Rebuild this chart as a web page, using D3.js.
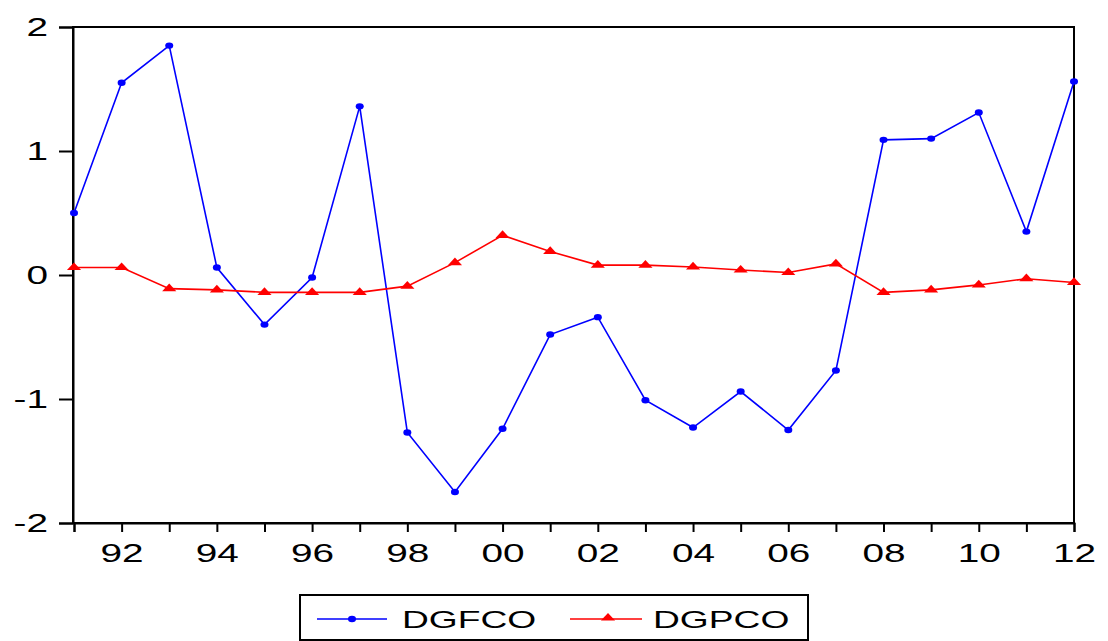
<!DOCTYPE html>
<html><head><meta charset="utf-8">
<script src="https://cdn.jsdelivr.net/npm/d3@7"></script>
<style>body{margin:0;background:#fff;} text{font-family:"Liberation Sans",Arial,sans-serif;fill:#000;}</style>
</head><body>
<script>
const years = [1991,1992,1993,1994,1995,1996,1997,1998,1999,2000,2001,2002,2003,2004,2005,2006,2007,2008,2009,2010,2011,2012];
const dgfco = [0.50,1.55,1.85,0.06,-0.40,-0.02,1.36,-1.27,-1.75,-1.24,-0.48,-0.34,-1.01,-1.23,-0.94,-1.25,-0.77,1.09,1.10,1.31,0.35,1.56];
const dgpco = [0.06,0.06,-0.11,-0.12,-0.14,-0.14,-0.14,-0.09,0.10,0.32,0.19,0.08,0.08,0.065,0.04,0.02,0.09,-0.14,-0.12,-0.08,-0.03,-0.06];
const yTicks = [-2,-1,0,1,2];
const xLabelYears = [1992,1994,1996,1998,2000,2002,2004,2006,2008,2010,2012];
const seriesNames = ["DGFCO","DGPCO"];
const seriesColors = ["#0000ff","#ff0000"];

const W=1108,H=641, L=73,R=1074,T=27,B=523, SX=1.55;
const svg=d3.select("body").append("svg").attr("width",W).attr("height",H);
const x=d3.scaleLinear().domain([1991,2012]).range([L+1,R]);
const y=d3.scaleLinear().domain([-2,2]).range([B,T]);

// frame
svg.append("rect").attr("x",L).attr("y",T).attr("width",R-L).attr("height",B-T)
  .attr("fill","none").attr("stroke","#000").attr("stroke-width",2);

// y axis
const ya=svg.append("g").attr("transform",`translate(${L},0)`)
  .call(d3.axisLeft(y).tickValues(yTicks).tickSize(14).tickFormat(d=>String(d)));
ya.select(".domain").attr("stroke-width",2);
ya.selectAll(".tick line").attr("stroke-width",2);
ya.selectAll(".tick text").attr("x",null).attr("dy","0.35em").style("font-size","25px")
  .attr("text-anchor","end").attr("transform",`translate(-25,0) scale(${SX},1)`);

// x axis
const xa=svg.append("g").attr("transform",`translate(0,${B})`)
  .call(d3.axisBottom(x).tickValues(years).tickSize(9)
    .tickFormat(d=>xLabelYears.includes(d)?String(d).slice(2):""));
xa.select(".domain").attr("stroke-width",2);
xa.selectAll(".tick line").attr("stroke-width",2);
xa.selectAll(".tick text").attr("y",null).attr("dy",null).style("font-size","25px")
  .attr("text-anchor","middle").attr("transform",`translate(0,39) scale(${SX},1)`);

const line=d3.line().x((d,i)=>x(years[i])).y(d=>y(d));
const tri=d3.symbol().type(d3.symbolTriangle).size(34);

[dgfco,dgpco].forEach((s,k)=>{
  svg.append("path").datum(s).attr("d",line).attr("fill","none")
    .attr("stroke",seriesColors[k]).attr("stroke-width",1.6);
  const g=svg.append("g");
  g.selectAll("g").data(s).enter().append("g")
    .attr("transform",(d,i)=>`translate(${x(years[i])},${y(d)})`)
    .each(function(){
      const e=d3.select(this);
      if(k===0) e.append("ellipse").attr("rx",4).attr("ry",3.2).attr("fill",seriesColors[0]);
      else e.append("path").attr("d",tri).attr("transform",`scale(1.6,1)`).attr("fill",seriesColors[1]);
    });
});

// legend
const lg=svg.append("g");
lg.append("rect").attr("x",300).attr("y",595).attr("width",508).attr("height",45)
  .attr("fill","#fff").attr("stroke","#000").attr("stroke-width",2);
const legX=[[317,387,352,402],[570,642,608,653]];
seriesNames.forEach((n,k)=>{
  const [x1,x2,mx,tx]=legX[k];
  lg.append("line").attr("x1",x1).attr("x2",x2).attr("y1",619).attr("y2",619)
    .attr("stroke",seriesColors[k]).attr("stroke-width",1.6);
  if(k===0) lg.append("ellipse").attr("cx",mx).attr("cy",619).attr("rx",4).attr("ry",3.2).attr("fill",seriesColors[0]);
  else lg.append("path").attr("d",tri).attr("transform",`translate(${mx},618) scale(1.6,1)`).attr("fill",seriesColors[1]);
  lg.append("text").text(n).style("font-size","24px")
    .attr("transform",`translate(${tx},628) scale(${SX},1)`);
});
</script>
</body></html>
